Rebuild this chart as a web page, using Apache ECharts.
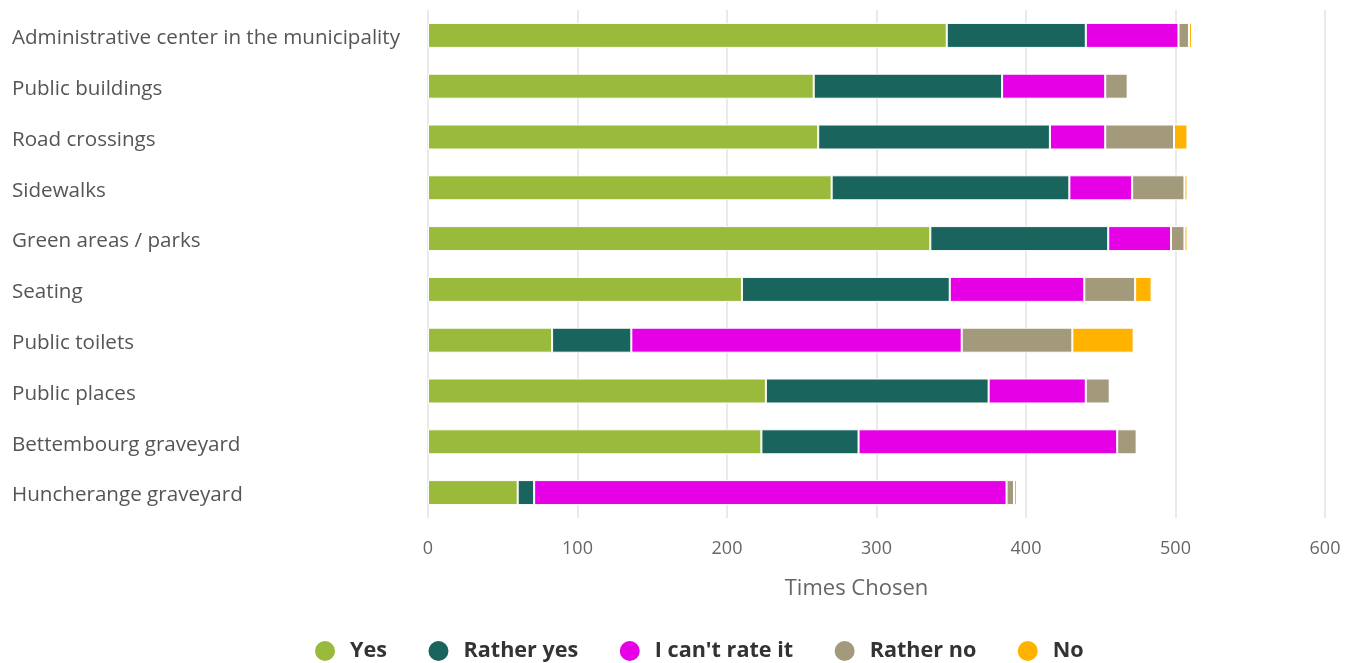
<!DOCTYPE html>
<html>
<head>
<meta charset="utf-8">
<script src="https://cdn.jsdelivr.net/npm/echarts@6/dist/echarts.min.js"></script>
<style>
html,body{margin:0;padding:0;background:#fff;}
#chart{width:1354px;height:663px;}
</style>
</head>
<body>
<div id="chart"></div>
<script>
const categories = [
  "Administrative center in the municipality",
  "Public buildings",
  "Road crossings",
  "Sidewalks",
  "Green areas / parks",
  "Seating",
  "Public toilets",
  "Public places",
  "Bettembourg graveyard",
  "Huncherange graveyard"
];
const seriesNames = ["Yes", "Rather yes", "I can't rate it", "Rather no", "No"];
const yesValues       = [347, 258, 261, 270, 336, 210, 83, 226, 223, 60];
const ratherYesValues = [93, 126, 155, 159, 119, 139, 53, 149, 65, 11];
const cantRateValues  = [62, 69, 37, 42, 42, 90, 221, 65, 173, 316];
const ratherNoValues  = [7, 15, 46, 35, 9, 34, 74, 16, 13, 5];
const noValues        = [2, 0, 9, 2, 2, 11, 41, 0, 0, 2];
const xTicks = [0, 100, 200, 300, 400, 500, 600];

const colors = ["#9aba3b", "#1a645e", "#e600e6", "#a39a7c", "#ffb300"];
const allValues = [yesValues, ratherYesValues, cantRateValues, ratherNoValues, noValues];

const chart = echarts.init(document.getElementById('chart'), null, {renderer: 'canvas'});
const font = "'Open Sans', 'Noto Sans', sans-serif";

chart.setOption({
  animation: false,
  color: colors,
  textStyle: {fontFamily: font},
  grid: {left: 428, right: 29, top: 10, bottom: 145, containLabel: false},
  legend: {
    bottom: 0,
    left: 313,
    padding: 0,
    icon: 'circle',
    itemWidth: 22,
    itemHeight: 22,
    itemGap: 39.5,
    textStyle: {fontFamily: font, fontSize: 21.6, fontWeight: 'bold', color: '#333', padding: [0, 0, 0, 9]},
    data: seriesNames
  },
  xAxis: {
    type: 'value',
    min: xTicks[0],
    max: xTicks[xTicks.length - 1],
    interval: 100,
    name: 'Times Chosen',
    nameLocation: 'middle',
    nameGap: 60,
    nameTextStyle: {fontFamily: font, fontSize: 22, color: '#666', padding: [0, 40, 0, 0]},
    axisLine: {show: false},
    axisTick: {show: false},
    axisLabel: {fontFamily: font, fontSize: 18, color: '#666', margin: 22},
    splitLine: {show: true, lineStyle: {color: '#e3e3e3', width: 1.5}}
  },
  yAxis: {
    type: 'category',
    data: categories,
    inverse: true,
    axisLine: {show: false},
    axisTick: {show: false},
    axisLabel: {
      align: 'left',
      margin: 416,
      formatter: function (v) { return '{a|' + v + '}'; },
      rich: {a: {fontFamily: font, fontSize: 20.6, color: '#555', padding: [6, 0, 0, 0]}}
    },
    splitLine: {show: false}
  },
  series: seriesNames.map((name, i) => ({
    name: name,
    type: 'bar',
    stack: 'total',
    barWidth: 25,
    data: allValues[i],
    itemStyle: {color: colors[i], borderColor: '#fff', borderWidth: 1}
  }))
});
</script>
</body>
</html>
